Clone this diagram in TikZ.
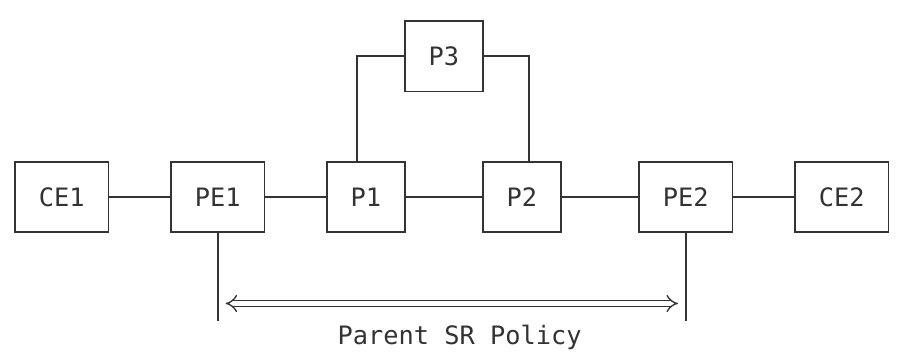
\documentclass[tikz,border=0pt]{standalone}
\usepackage{fontspec}
\setmonofont{DejaVu Sans Mono}
\usetikzlibrary{calc}
\usetikzlibrary{arrows.meta}
\definecolor{color_net_ink}{HTML}{333333}
\definecolor{color_net_bg}{HTML}{FFFFFF}
\def\netlinewidth{1.3pt}
\def\netfont{\ttfamily\fontsize{19}{19}\selectfont}
\def\colw{11.7pt}
\def\roww{26.4pt}
\tikzset{
    netbox/.style={draw=color_net_ink, line width=\netlinewidth, text=color_net_ink,
        font=\netfont, minimum height=52.8pt, inner sep=0pt},
    widebox/.style={netbox, minimum width=70.2pt},
    narrowbox/.style={netbox, minimum width=58.5pt},
    netlink/.style={draw=color_net_ink, line width=\netlinewidth},
}

\begin{document}
\begin{tikzpicture}[x=\colw, y=-\roww]
        \fill[color_net_bg] (-0.962,-0.597) rectangle (56.54,9.375);
        \useasboundingbox (-0.962,-0.597) rectangle (56.54,9.375);
            % the routers
            \node[widebox] (ce1) at (3,5) {CE1};
            \node[widebox] (pe1) at (13,5) {PE1};
            \node[narrowbox] (p1) at (22.5,5) {P1};
            \node[narrowbox] (p2) at (32.5,5) {P2};
            \node[widebox] (pe2) at (43,5) {PE2};
            \node[widebox] (ce2) at (53,5) {CE2};
            \node[narrowbox] (p3) at (27.5,1) {P3};
            % links
            \draw[netlink] (ce1) -- (pe1);
            \draw[netlink] (pe1) -- (p1);
            \draw[netlink] (p1) -- (p2);
            \draw[netlink] (p2) -- (pe2);
            \draw[netlink] (pe2) -- (ce2);
            \draw[netlink] ($(p1.north west)+(2,0)$) |- (p3.west);
            \draw[netlink] ($(p2.north west)+(3,0)$) |- (p3.east);
            % the policy span
            \coordinate (polleft) at ($(pe1.south)+(0,2)$);
            \coordinate (polright) at ($(pe2.south)+(0,2)$);
            \draw[netlink] (pe1.south) -- ($(polleft)+(0,0.5)$);
            \draw[netlink] (pe2.south) -- ($(polright)+(0,0.5)$);
            \draw[color_net_ink, line width=1pt, double, double distance=3.5pt,
                {Implies[length=7pt]}-{Implies[length=7pt]}]
                ($(polleft)+(0.5,0)$) -- ($(polright)+(-0.5,0)$);
            \node[text=color_net_ink, font=\netfont] (policy) at (28.5,9) {Parent SR Policy};
    \end{tikzpicture}
\end{document}
